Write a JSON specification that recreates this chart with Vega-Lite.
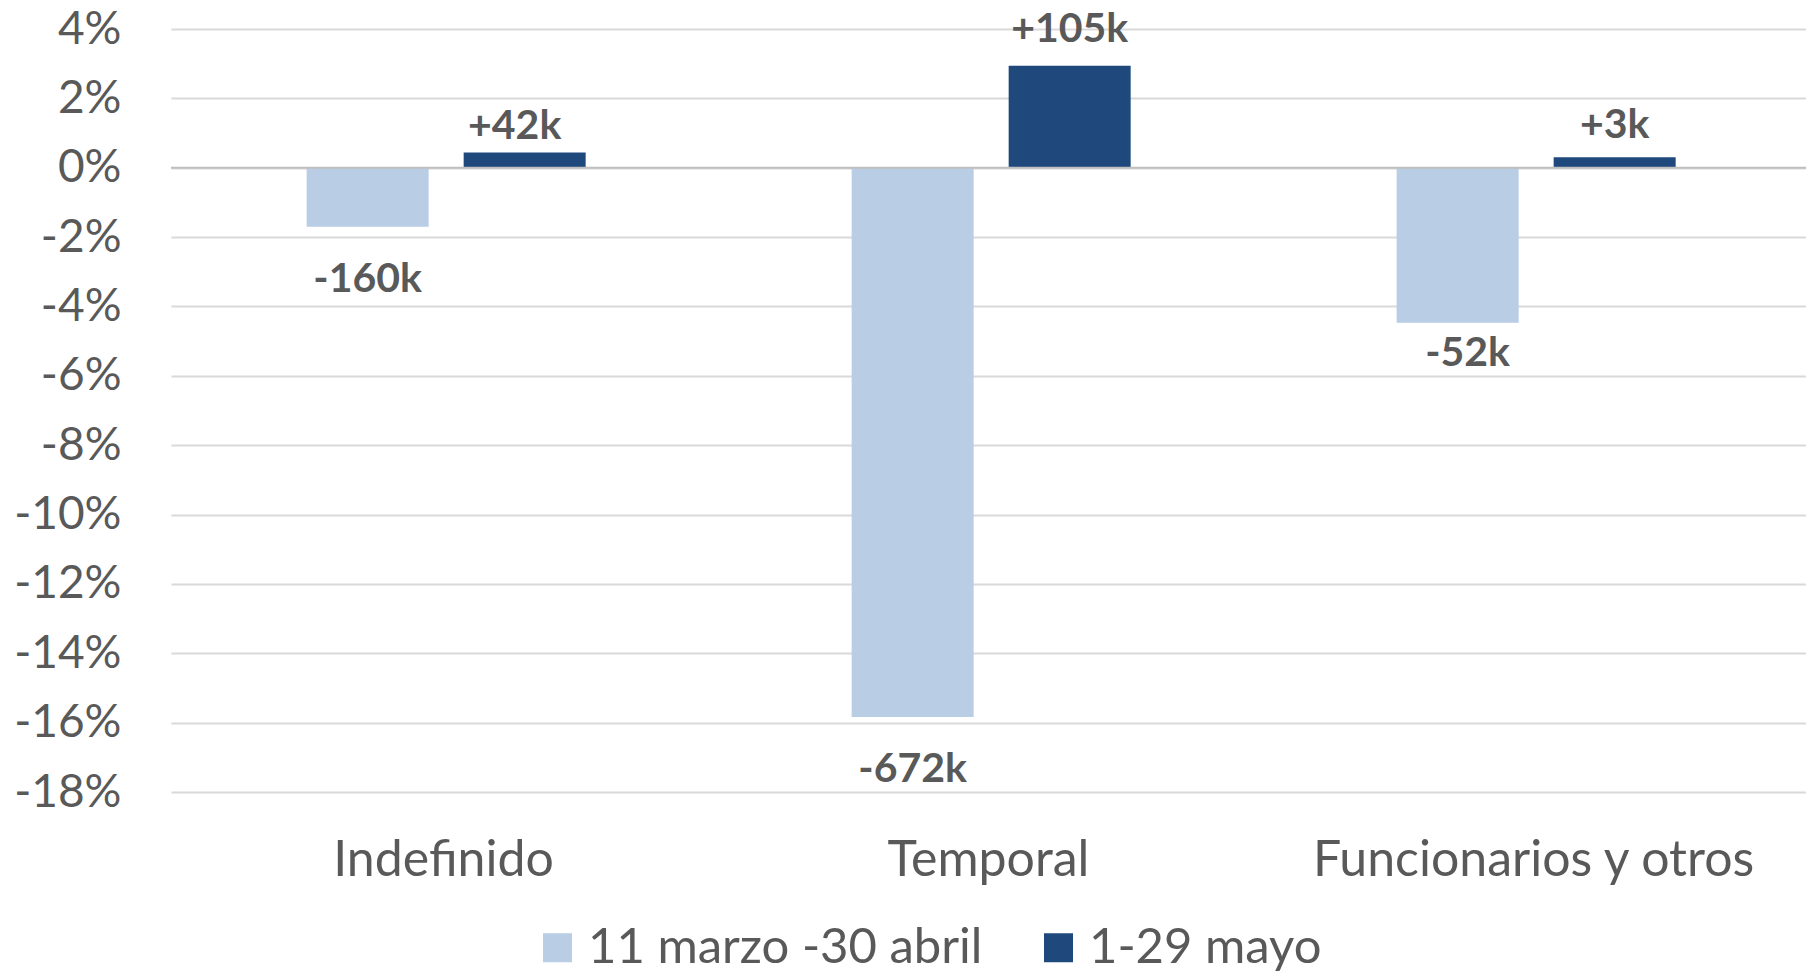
{
  "$schema": "https://vega.github.io/schema/vega-lite/v6.json",
  "width": 1635,
  "height": 763,
  "autosize": {"type": "none"},
  "padding": {"left": 171, "top": 29, "right": 0, "bottom": 184},
  "background": "white",
  "config": {"view": {"stroke": null}, "font": "Lato"},
  "data": {
    "values": [
      {"categoria": "Indefinido", "periodo": "11 marzo -30 abril", "valor": -1.70, "etiqueta": "-160k"},
      {"categoria": "Indefinido", "periodo": "1-29 mayo", "valor": 0.44, "etiqueta": "+42k"},
      {"categoria": "Temporal", "periodo": "11 marzo -30 abril", "valor": -15.84, "etiqueta": "-672k"},
      {"categoria": "Temporal", "periodo": "1-29 mayo", "valor": 2.94, "etiqueta": "+105k"},
      {"categoria": "Funcionarios y otros", "periodo": "11 marzo -30 abril", "valor": -4.47, "etiqueta": "-52k"},
      {"categoria": "Funcionarios y otros", "periodo": "1-29 mayo", "valor": 0.30, "etiqueta": "+3k"}
    ]
  },
  "layer": [
    {
      "mark": {"type": "bar"},
      "encoding": {
        "x": {"field": "categoria", "type": "nominal", "sort": ["Indefinido", "Temporal", "Funcionarios y otros"],
          "scale": {"paddingInner": 0, "paddingOuter": 0},
          "axis": {"title": null, "domain": false, "ticks": false, "labelAngle": 0, "labelFontSize": 50, "labelColor": "#595959", "labelPadding": 43, "labelLimit": 0}},
        "xOffset": {"field": "periodo", "type": "nominal", "sort": ["11 marzo -30 abril", "1-29 mayo"],
          "scale": {"paddingInner": 0.223, "paddingOuter": 0.847, "align": 0.51}},
        "y": {"field": "valor", "type": "quantitative",
          "scale": {"domain": [-18, 4], "nice": false, "zero": false},
          "axis": {"title": null, "domain": false, "ticks": false, "grid": true, "gridColor": "#D9D9D9", "gridWidth": 2,
            "values": [-18, -16, -14, -12, -10, -8, -6, -4, -2, 0, 2, 4],
            "labelExpr": "datum.value + '%'", "labelFontSize": 46, "labelColor": "#595959", "labelPadding": 50, "labelLimit": 0}},
        "color": {"field": "periodo", "type": "nominal",
          "scale": {"domain": ["11 marzo -30 abril", "1-29 mayo"], "range": ["#B9CDE5", "#1F497D"]},
          "legend": {"title": null, "orient": "none", "legendX": 362, "legendY": 894, "direction": "horizontal",
            "symbolType": "square", "symbolSize": 841, "symbolStrokeWidth": 0, "labelFontSize": 49, "labelColor": "#595959",
            "labelOffset": 6, "columnPadding": 51, "padding": 0, "labelLimit": 0}}
      }
    },
    {
      "data": {"values": [{}]},
      "mark": {"type": "rule", "color": "#BFBFBF", "strokeWidth": 2},
      "encoding": {"y": {"datum": 0}}
    },
    {
      "transform": [{"filter": "datum.valor > 0 && datum.categoria == 'Indefinido'"}],
      "mark": {"type": "text", "fontWeight": "bold", "fontSize": 41, "color": "#595959", "baseline": "alphabetic", "dy": -13, "dx": -10},
      "encoding": {
        "x": {"field": "categoria", "type": "nominal", "sort": ["Indefinido", "Temporal", "Funcionarios y otros"]},
        "xOffset": {"field": "periodo", "type": "nominal", "sort": ["11 marzo -30 abril", "1-29 mayo"]},
        "y": {"field": "valor", "type": "quantitative"},
        "text": {"field": "etiqueta"}
      }
    },
    {
      "transform": [{"filter": "datum.valor > 0 && datum.categoria == 'Temporal'"}],
      "mark": {"type": "text", "fontWeight": "bold", "fontSize": 41, "color": "#595959", "baseline": "alphabetic", "dy": -24},
      "encoding": {
        "x": {"field": "categoria", "type": "nominal", "sort": ["Indefinido", "Temporal", "Funcionarios y otros"]},
        "xOffset": {"field": "periodo", "type": "nominal", "sort": ["11 marzo -30 abril", "1-29 mayo"]},
        "y": {"field": "valor", "type": "quantitative"},
        "text": {"field": "etiqueta"}
      }
    },
    {
      "transform": [{"filter": "datum.valor > 0 && datum.categoria == 'Funcionarios y otros'"}],
      "mark": {"type": "text", "fontWeight": "bold", "fontSize": 41, "color": "#595959", "baseline": "alphabetic", "dy": -19},
      "encoding": {
        "x": {"field": "categoria", "type": "nominal", "sort": ["Indefinido", "Temporal", "Funcionarios y otros"]},
        "xOffset": {"field": "periodo", "type": "nominal", "sort": ["11 marzo -30 abril", "1-29 mayo"]},
        "y": {"field": "valor", "type": "quantitative"},
        "text": {"field": "etiqueta"}
      }
    },
    {
      "transform": [{"filter": "datum.valor < 0 && datum.categoria != 'Funcionarios y otros'"}],
      "mark": {"type": "text", "fontWeight": "bold", "fontSize": 41, "color": "#595959", "baseline": "alphabetic", "dy": 65},
      "encoding": {
        "x": {"field": "categoria", "type": "nominal", "sort": ["Indefinido", "Temporal", "Funcionarios y otros"]},
        "xOffset": {"field": "periodo", "type": "nominal", "sort": ["11 marzo -30 abril", "1-29 mayo"]},
        "y": {"field": "valor", "type": "quantitative"},
        "text": {"field": "etiqueta"}
      }
    },
    {
      "transform": [{"filter": "datum.valor < 0 && datum.categoria == 'Funcionarios y otros'"}],
      "mark": {"type": "text", "fontWeight": "bold", "fontSize": 41, "color": "#595959", "baseline": "alphabetic", "dy": 43, "dx": 10},
      "encoding": {
        "x": {"field": "categoria", "type": "nominal", "sort": ["Indefinido", "Temporal", "Funcionarios y otros"]},
        "xOffset": {"field": "periodo", "type": "nominal", "sort": ["11 marzo -30 abril", "1-29 mayo"]},
        "y": {"field": "valor", "type": "quantitative"},
        "text": {"field": "etiqueta"}
      }
    }
  ]
}
